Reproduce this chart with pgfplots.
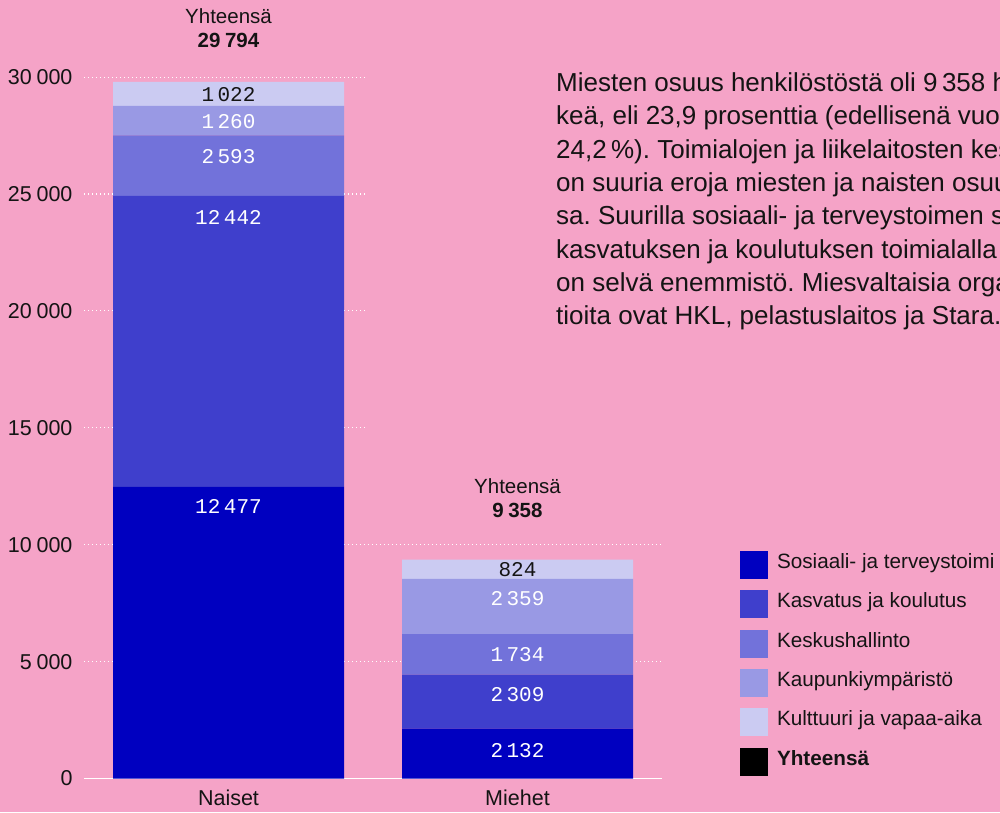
\documentclass[border=0pt]{standalone}
\usepackage{pgfplots}
\pgfplotsset{compat=1.18}
\usepackage{pgfplotstable}
\usepackage{fontspec}
\setmainfont{Liberation Sans}
\newfontfamily\monofont{Liberation Mono}
\definecolor{bg}{HTML}{F5A3C7}
\definecolor{c1}{HTML}{0000C0}
\definecolor{c2}{HTML}{3F3FCC}
\definecolor{c3}{HTML}{7272DA}
\definecolor{c4}{HTML}{9999E4}
\definecolor{c5}{HTML}{CBCBF2}
\definecolor{txt}{HTML}{141414}
\pgfplotsset{
  sq/.style={legend image code/.code={\fill[##1] (0pt,-14pt) rectangle (28pt,14pt);}},
  vals/.style={point meta=explicit,
    nodes near coords={\pgfmathprintnumber[1000 sep={\,}]{\pgfplotspointmeta}},
    every node near coord/.append style={font=\monofont\fontsize{21}{24}\selectfont, anchor=center, inner sep=0pt, yshift=\myoff}},
}
% segment values and label offsets (pt, from segment centre)
\pgfplotstableread{
x sos kas kes kau kul osos okas okes okau okul
0 12477 12442 2593 1260 1022 125.9 123.9 9.3 -1.3 -1.0
1 2132 2309 1734 2359 824 3.4 7.3 -0.4 8.3 0.1
}\data
\pgfplotstableread{
x y tot off
0 0.01 29794 34
1 0.01 9358 42
}\totals
\begin{document}
\frenchspacing
\begin{tikzpicture}
\useasboundingbox (0pt,0pt) rectangle (1000pt,812pt);
\clip (0pt,0pt) rectangle (1000pt,812pt);
\fill[bg] (0pt,0pt) rectangle (1000pt,812pt);
\begin{axis}[
  at={(84pt,33.5pt)}, anchor=south west,
  scale only axis, width=578pt, height=701.4pt,
  xmin=-0.5, xmax=1.5, ymin=0, ymax=30000,
  clip=false,
  ybar stacked, bar width=231pt,
  xtick={0,1}, xticklabels={Naiset,Miehet},
  ytick={0,5000,...,30000},
  scaled y ticks=false,
  axis x line=bottom, axis y line=left,
  x axis line style={draw=white, line width=1.5pt, -},
  y axis line style={draw=none},
  major tick length=0pt,
  ymajorgrids,
  grid style={white, line width=1.1pt, dash pattern=on 1.1pt off 2.9pt},
  /pgf/number format/1000 sep={\hspace{0.22em}},
  /pgf/number format/assume math mode=true,
  tick label style={font=\fontsize{21.5}{24}\selectfont, text=txt},
  yticklabel style={xshift=-8pt},
  xticklabel style={yshift=-8pt},
  legend style={at={(1.13495,0.32435)}, anchor=north west, draw=none, fill=none,
    inner sep=0pt, outer sep=0pt, row sep=11.3pt, column sep=9pt,
    font=\fontsize{20.7}{24}\selectfont, text=txt,
    nodes={inner sep=0pt, text height=0.72em, text depth=0pt}},
  legend cell align=left,
]
\addplot[fill=c1, draw=none, sq, vals, visualization depends on={\thisrow{osos}\as\myoff},
  every node near coord/.append style={text=white}] table[x=x, y=sos, meta=sos] {\data};
\addlegendentry{Sosiaali- ja terveystoimi}
\addplot[fill=c2, draw=none, sq, vals, visualization depends on={\thisrow{okas}\as\myoff},
  every node near coord/.append style={text=white}] table[x=x, y=kas, meta=kas] {\data};
\addlegendentry{Kasvatus ja koulutus}
\addplot[fill=c3, draw=none, sq, vals, visualization depends on={\thisrow{okes}\as\myoff},
  every node near coord/.append style={text=white}] table[x=x, y=kes, meta=kes] {\data};
\addlegendentry{Keskushallinto}
\addplot[fill=c4, draw=none, sq, vals, visualization depends on={\thisrow{okau}\as\myoff},
  every node near coord/.append style={text=white}] table[x=x, y=kau, meta=kau] {\data};
\addlegendentry{Kaupunkiympäristö}
\addplot[fill=c5, draw=none, sq, vals, visualization depends on={\thisrow{okul}\as\myoff},
  every node near coord/.append style={text=txt}] table[x=x, y=kul, meta=kul] {\data};
\addlegendentry{Kulttuuri ja vapaa-aika}
\addlegendimage{fill=black, draw=none, sq}
\addlegendentry{\textbf{Yhteensä}}
\addplot[fill=none, draw=none, point meta=explicit,
  visualization depends on={\thisrow{off}\as\myoff},
  nodes near coords={Yhteensä\\\textbf{\pgfmathprintnumber{\pgfplotspointmeta}}},
  every node near coord/.style={align=center, anchor=south, inner sep=0pt, yshift=\myoff,
    font=\fontsize{20.5}{24}\selectfont, text=txt}]
  table[x=x, y=y, meta=tot] {\totals};
\end{axis}
\fill[bg] (365pt,352pt) rectangle (1000pt,812pt);
\begin{scope}[every node/.style={anchor=base west, inner sep=0pt, text=txt, font=\fontsize{26}{30}\selectfont}]
\node at (556pt,720.3pt) {Miesten osuus henkilöstöstä oli 9\,358 henki-};
\node at (556pt,687.0pt) {keä, eli 23,9 prosenttia (edellisenä vuonna};
\node at (556pt,653.7pt) {24,2\,\%). Toimialojen ja liikelaitosten kesken};
\node at (556pt,620.4pt) {on suuria eroja miesten ja naisten osuuksis-};
\node at (556pt,587.1pt) {sa. Suurilla sosiaali- ja terveystoimen sekä};
\node at (556pt,553.8pt) {kasvatuksen ja koulutuksen toimialalla naisilla};
\node at (556pt,520.5pt) {on selvä enemmistö. Miesvaltaisia organisaa-};
\node at (556pt,487.2pt) {tioita ovat HKL, pelastuslaitos ja Stara.};
\end{scope}
\end{tikzpicture}
\end{document}
